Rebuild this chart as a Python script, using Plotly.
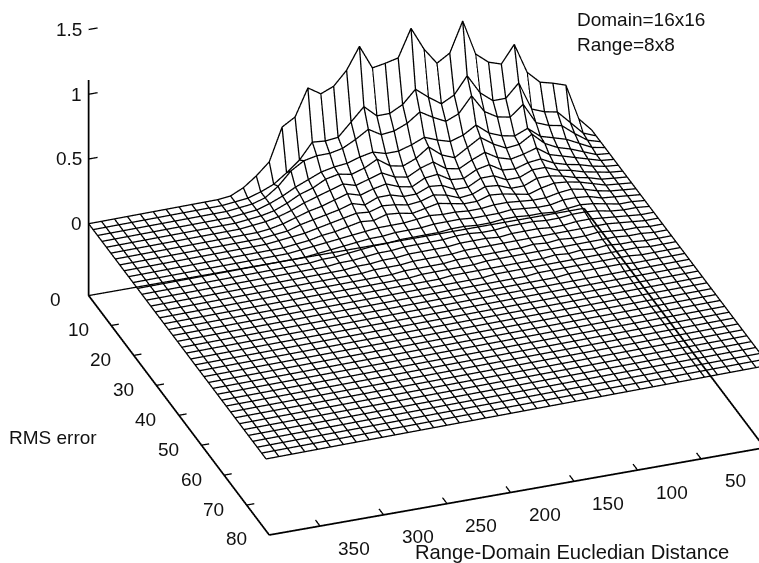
import plotly.graph_objects as go

distance = [round(-6 + 10.154 * i, 1) for i in range(40)]
rms = [round(r * 1.965, 2) for r in range(41)]

r00 = [0,.105,.383,.417,.443,.538,.772,.639,.672,.754,1.027,.798,.738,.866,1.045,.835,.812,.795,.98,.814,.709,.669,.733,.527,.468,.218,.128,.055,.01]
r02 = [0,.04,.14,.24,.26,.30,.52,.42,.42,.50,.65,.52,.47,.54,.62,.52,.47,.47,.56,.46,.36,.35,.36,.24,.16,.09,.05,.02,.01]
r04 = [0,.03,.10,.18,.20,.24,.40,.32,.34,.40,.54,.42,.38,.43,.49,.42,.38,.37,.43,.37,.32,.30,.30,.28,.22,.12,.05,.02,.01]
r06 = [0,.02,.07,.12,.15,.18,.26,.22,.24,.28,.36,.30,.27,.30,.34,.30,.27,.27,.30,.28,.25,.24,.22,.18,.14,.09,.05,.02,.01]
r08 = [0,.01,.05,.09,.12,.17,.26,.20,.19,.24,.31,.25,.19,.23,.31,.24,.20,.22,.29,.24,.21,.23,.21,.16,.13,.08,.04,.02,.01]
r10 = [0,.01,.04,.07,.10,.13,.20,.17,.15,.18,.24,.20,.15,.17,.24,.21,.16,.18,.23,.20,.17,.20,.17,.14,.11,.07,.04,.02,.01]
r12 = [0,.01,.03,.06,.08,.11,.16,.15,.12,.13,.19,.17,.12,.13,.19,.18,.13,.15,.19,.17,.14,.17,.14,.11,.09,.06,.03,.01]
r14 = [0,.01,.03,.05,.08,.10,.14,.14,.10,.10,.15,.15,.10,.10,.15,.16,.12,.12,.15,.15,.11,.14,.11,.09,.07,.05,.02,.01]
r16 = [0,.01,.02,.05,.07,.10,.12,.12,.08,.08,.12,.13,.09,.08,.12,.14,.11,.10,.12,.13,.10,.11,.09,.07,.05,.03,.02,.01]
r18 = [0,.01,.02,.05,.08,.10,.11,.09,.06,.08,.10,.11,.08,.08,.10,.12,.10,.08,.10,.11,.08,.09,.07,.05,.04,.02,.01]
r20 = [0,.01,.02,.04,.07,.09,.08,.06,.06,.07,.08,.08,.07,.07,.08,.08,.09,.08,.07,.07,.07,.06,.05,.04,.03,.02,.01]
r22 = [0,.01,.02,.03,.06,.07,.07,.05,.05,.06,.07,.06,.06,.06,.07,.07,.07,.06,.06,.06,.05,.05,.04,.03,.02,.01]
r24 = [0,.01,.01,.03,.05,.06,.05,.04,.05,.05,.06,.06,.05,.05,.06,.06,.05,.05,.05,.05,.04,.04,.03,.02,.01,.01]
r26 = [0,.01,.01,.02,.04,.05,.05,.04,.04,.05,.05,.05,.04,.04,.05,.05,.04,.04,.04,.04,.03,.03,.02,.01,.01]
r28 = [0,0,.01,.02,.03,.04,.04,.03,.03,.04,.04,.04,.03,.04,.04,.04,.03,.03,.03,.03,.02,.02,.01,.01]
r30 = [0,0,.01,.02,.03,.03,.03,.03,.03,.03,.03,.03,.03,.03,.03,.03,.02,.02,.02,.02,.01,.01,.01]
r32 = [0,0,.01,.01,.02,.03,.02,.02,.03,.02,.03,.02,.02,.02,.02,.02,.02,.01,.01,.01,.01]
r34 = [0,0,.01,.01,.02,.02,.02,.02,.02,.02,.02,.02,.02,.02,.02,.01,.01,.01,.01,.01]
r36 = [0,0,0,.01,.01,.02,.01,.02,.01,.02,.01,.01,.01,.01,.01,.01,.01,.01]
r38 = [0,0,0,.01,.01,.01,.01,.01,.01,.01,.01,.01,.01,.01,.01]
r40 = [0,0,0,0,.01,.01,.01,.01,.01,.01,.01,.01]
r42 = [0,0,0,0,0,.01,.01,.01,.01,.01]
nonzero_rows = [r00,r02,r04,r06,r08,r10,r12,r14,r16,r18,r20,r22,r24,r26,r28,r30,r32,r34,r36,r38,r40,r42]

rms_ticks = [0,10,20,30,40,50,60,70,80]
dist_ticks = [50,100,150,200,250,300,350]
z_ticks = [0,0.5,1,1.5]
z_labels = ["0","0.5","1","1.5"]

D_MAX, R_MAX, Z_MIN = 390, 80, -0.555
Z_AXIS_TOP = 1.11
SKEW = 0.04   # slight tilt of the scanned mesh relative to the base frame
FONT = dict(family="Liberation Sans", size=19, color="#111")
INK = "#000"

z = [row + [0]*(len(distance)-len(row)) for row in nonzero_rows]
z += [[0]*len(distance) for _ in range(len(rms)-len(z))]
drawn = [[v + SKEW*(390-d)/396 for v, d in zip(row, distance)] for row in z]

fig = go.Figure()
fig.add_trace(go.Surface(
    x=distance, y=rms, z=[[v-0.01 for v in row] for row in drawn], scene="scene",
    colorscale=[[0,"white"],[1,"white"]], showscale=False, hoverinfo="skip",
    lighting=dict(ambient=1, diffuse=0, specular=0, roughness=1, fresnel=0),
))
mx, my, mz = [], [], []
for i, r in enumerate(rms):
    mx += distance + [None]; my += [r]*len(distance) + [None]; mz += drawn[i] + [None]
for j, d in enumerate(distance):
    mx += [d]*len(rms) + [None]; my += rms + [None]; mz += [row[j] for row in drawn] + [None]
fig.add_trace(go.Scatter3d(x=mx, y=my, z=mz, mode="lines", scene="scene",
                           line=dict(color=INK, width=2.6), hoverinfo="skip", showlegend=False,
                           connectgaps=False))

def seg(xs, ys, zs, w):
    fig.add_trace(go.Scatter3d(x=xs, y=ys, z=zs, mode="lines", scene="scene2",
                               line=dict(color=INK, width=w), hoverinfo="skip", showlegend=False))

seg([D_MAX,0],[0,0],[Z_MIN]*2, 2.6)
seg([0,0],[0,R_MAX],[Z_MIN]*2, 3.5)
seg([D_MAX,0],[R_MAX,R_MAX],[Z_MIN]*2, 3.5)
seg([D_MAX,D_MAX],[0,R_MAX],[Z_MIN]*2, 3.5)
seg([D_MAX,D_MAX],[0,0],[Z_MIN,Z_AXIS_TOP], 3.5)
for r in rms_ticks[1:-1]:
    seg([D_MAX,D_MAX-6],[r,r],[Z_MIN,Z_MIN], 2.6)
for d in dist_ticks:
    seg([d,d],[R_MAX,R_MAX-2],[Z_MIN,Z_MIN], 2.6)
for v in z_ticks[1:]:
    seg([D_MAX,D_MAX-7],[0,0],[v,v], 2.6)

ann = []
for r in rms_ticks:
    ann.append(dict(x=D_MAX,y=r,z=Z_MIN,text=str(r),showarrow=False,xshift=-33,yshift=-4,font=FONT))
for d in dist_ticks:
    ann.append(dict(x=d,y=R_MAX,z=Z_MIN,text=str(d),showarrow=False,xshift=34,yshift=-22,font=FONT))
for v,t in zip(z_ticks,z_labels):
    ann.append(dict(x=D_MAX,y=0,z=v,text=t,showarrow=False,xanchor="right",xshift=-5,font=FONT))

SCALE = 1.873
center = (0.1827,0.0125,-0.1343)
rho = 2.0
direction = (0.3,0.823,0.4836)
cam = dict(center=dict(x=center[0],y=center[1],z=center[2]),
           eye=dict(x=center[0]+rho*direction[0],y=center[1]+rho*direction[1],z=center[2]+rho*direction[2]),
           up=dict(x=0,y=0,z=1), projection=dict(type="orthographic"))
hidden = dict(visible=False, showgrid=False, zeroline=False, showbackground=False)
base = dict(domain=dict(x=[0,1],y=[0,1]), camera=cam, aspectmode="manual",
            aspectratio=dict(x=SCALE*410/390,y=SCALE*84/80,z=SCALE*0.589*2.15/2.1), bgcolor="rgba(0,0,0,0)",
            xaxis=dict(range=[-10,400],**hidden), yaxis=dict(range=[-2,82],**hidden),
            zaxis=dict(range=[-0.6,1.55],**hidden))
P = lambda px, py: dict(x=px/759, y=1-py/563, xref="paper", yref="paper", showarrow=False,
                        font=FONT, xanchor="left", yanchor="middle")
fig.update_layout(
    width=759,height=563,margin=dict(l=0,r=0,t=0,b=0,autoexpand=False),paper_bgcolor="white",showlegend=False,
    scene=base, scene2=dict(base, annotations=ann),
    annotations=[
        dict(P(575,20),text="Domain=16x16"),
        dict(P(575,45),text="Range=8x8"),
        dict(P(7,437),text="RMS error"),
        dict(P(413,552),text="Range-Domain Eucledian Distance",
             font=dict(FONT,size=20.2)),
    ],
)
fig.write_html("out.html", config=dict(displayModeBar=False),
               post_script="document.body.style.margin='0';")
